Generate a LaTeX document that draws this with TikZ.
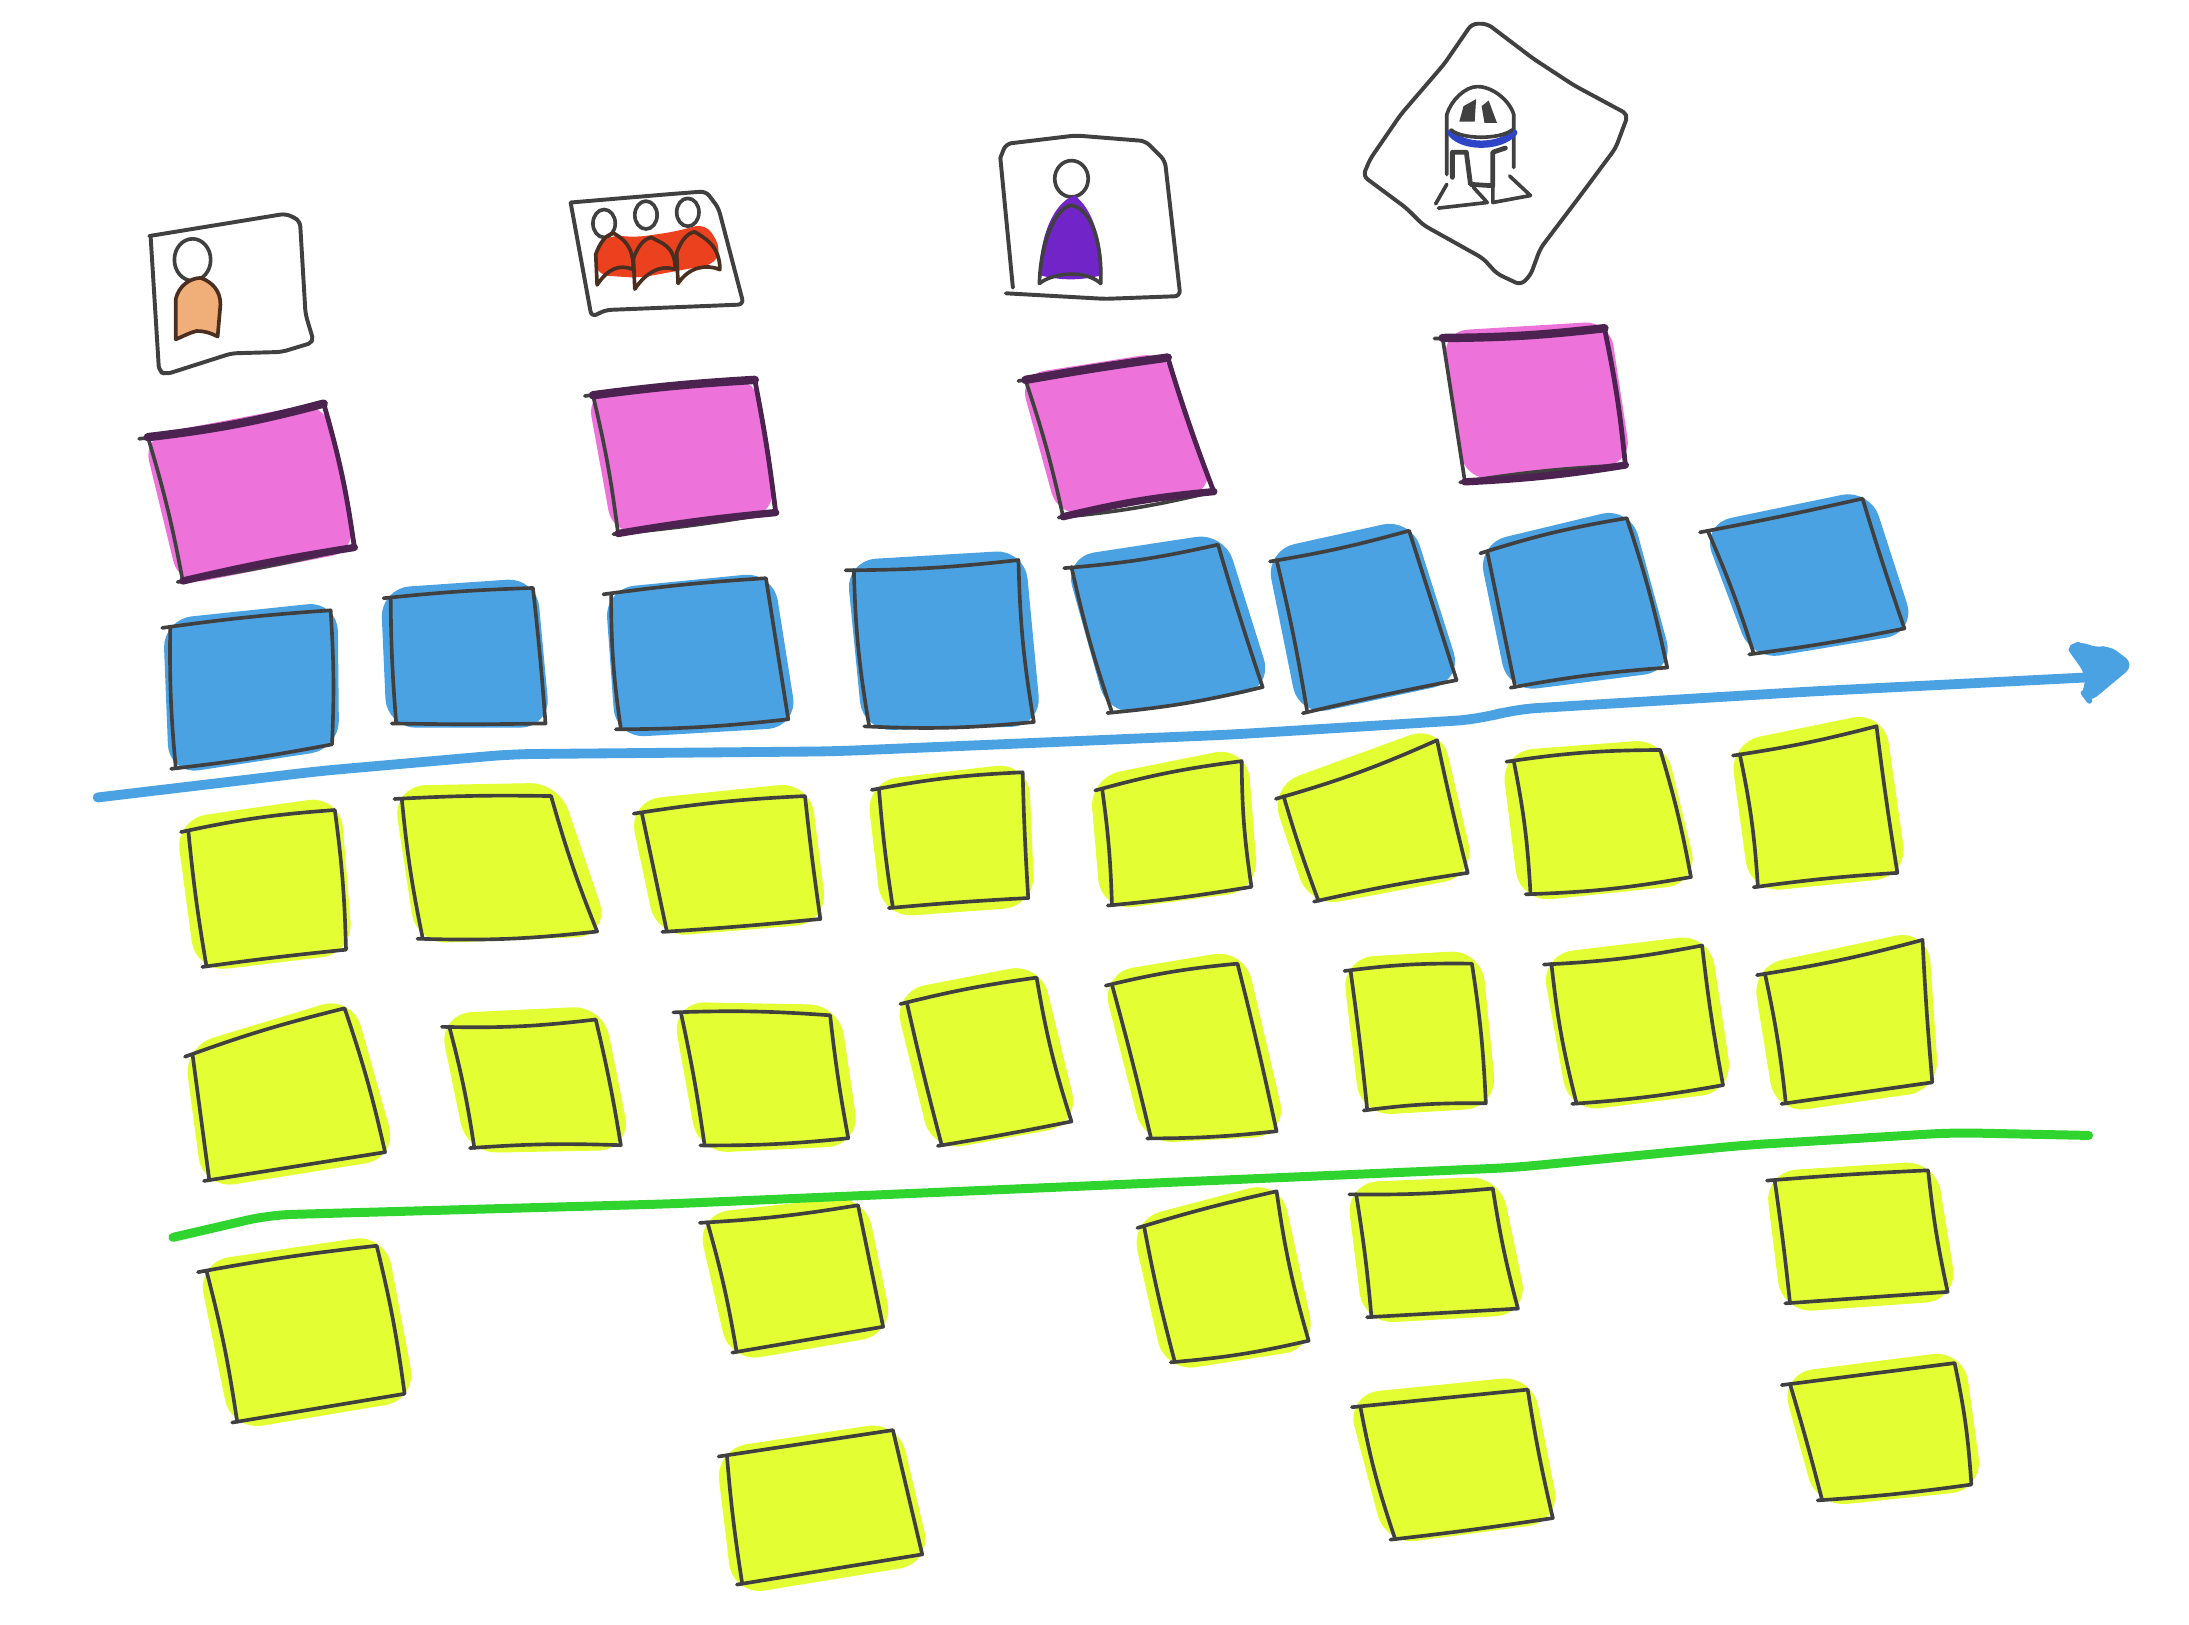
\documentclass[tikz,border=0pt]{standalone}
\usetikzlibrary{calc}

\definecolor{notepink}{HTML}{ED72DA}
\definecolor{noteblue}{HTML}{4BA2E3}
\definecolor{noteyellow}{HTML}{E3FF33}
\definecolor{pencil}{HTML}{404040}
\definecolor{pinkline}{HTML}{4C2350}
\definecolor{lanegreen}{HTML}{2FD42F}
\definecolor{bodyorange}{HTML}{F0AF78}
\definecolor{bodyred}{HTML}{EC411E}
\definecolor{bodypurple}{HTML}{7125C8}
\definecolor{bodyblue}{HTML}{2F45C8}
\definecolor{bodyline}{HTML}{4A2E20}

\tikzset{
	blob/.style={fill=#1,draw=#1,line join=round,rounded corners=8pt},
	sketch/.style={draw=pencil,line width=1.3pt,line cap=round,line join=round},
	card/.style={draw=pencil,line width=1.4pt,line cap=round,line join=round,rounded corners=2pt},
	pen/.style={draw=pencil,line width=1.3pt,line cap=round,line join=round},
	lane/.style={line width=3.5pt,line cap=round,line join=round,rounded corners=8pt}
}

% one sticky note, from the corners in \ax ... \dy: fill colour and width of its halo
\newcommand{\stickynote}[2]{
	\coordinate (nw) at (\ax,\ay);
	\coordinate (ne) at (\bx,\by);
	\coordinate (se) at (\cx,\cy);
	\coordinate (sw) at (\dx,\dy);
	\pgfmathsetmacro\bowa{mod(\ax+2*\by,9)-4}
	\pgfmathsetmacro\bowb{mod(\bx+2*\cy,9)-4}
	\pgfmathsetmacro\bowc{mod(\cx+2*\dy,9)-4}
	\pgfmathsetmacro\bowd{mod(\dx+2*\ay,9)-4}
	\pgfmathsetmacro\nudgex{mod(\ax,5)-2}
	\pgfmathsetmacro\nudgey{mod(\by,5)-3}
	\path[blob=#1,line width=#2] ($(nw)+(\nudgex,\nudgey)$) -- ($(ne)+(\nudgex,\nudgey)$)
		-- ($(se)+(\nudgex,\nudgey)$) -- ($(sw)+(\nudgex,\nudgey)$) -- cycle;
	\draw[sketch] ($(nw)!-0.05!(ne)$) to[bend left=\bowa] (ne) to[bend left=\bowb] (se)
		to[bend left=\bowc] ($(sw)!-0.03!(se)$);
	\draw[sketch] (nw) to[bend right=\bowd] (sw);
}

\begin{document}
\begin{tikzpicture}[x=0.497pt,y=-0.4975pt]
	\useasboundingbox (0,0) rectangle (1569,1163);

	% the pink notes, with their heavy top and bottom strokes
	\foreach \ax/\ay/\bx/\by/\cx/\cy/\dx/\dy in {
		106/313/232/289/254/392/131/416,
		425/283/541/272/556/367/443/382,
		735/272/837/256/870/352/762/370,
		1034/242/1150/235/1165/333/1050/345}
	{
		\stickynote{notepink}{2pt}
		\draw[pinkline,line width=3pt,line cap=round] (nw) to[bend left=\bowa] (ne);
		\draw[pinkline,line width=2.6pt,line cap=round] (se) to[bend right=\bowc] (sw);
		\draw[pinkline,line width=1.7pt,line cap=round] (ne) to[bend left=\bowb] (se);
	}

	% the blue notes above the line
	\foreach \ax/\ay/\bx/\by/\cx/\cy/\dx/\dy in {
		122/449/237/437/238/533/126/550,
		280/428/382/421/391/518/284/518,
		438/425/549/414/565/515/445/522,
		612/408/730/401/741/517/623/520,
		768/406/873/390/905/492/797/510,
		915/401/1010/380/1044/487/937/510,
		1066/395/1166/371/1195/478/1086/492,
		1224/380/1335/357/1365/450/1257/468}
	{
		\stickynote{noteblue}{5pt}
	}

	% the yellow notes, rows one and two
	\foreach \ax/\ay/\bx/\by/\cx/\cy/\dx/\dy in {
		135/595/240/580/248/680/148/692,
		288/572/395/570/428/667/303/672,
		460/582/577/570/588/658/478/667,
		630/565/733/553/737/643/640/650,
		790/565/890/545/897/635/797/648,
		920/570/1030/530/1052/625/945/645,
		1085/545/1190/537/1212/628/1097/640,
		1247/540/1345/520/1360/625/1260/635,
		138/755/247/722/276/825/150/845,
		322/735/427/730/445/820/340/822,
		488/725/595/727/608/815/505/820,
		650/718/743/700/768/803/675/820,
		797/705/887/690/915/810/825/815,
		968/695/1055/690/1065/790/980/795,
		1112/690/1220/677/1235/777/1130/790,
		1265/697/1378/673/1385/775/1280/790}
	{
		\stickynote{noteyellow}{6.5pt}
	}

	% the yellow notes below the green line
	\foreach \ax/\ay/\bx/\by/\cx/\cy/\dx/\dy in {
		148/910/270/892/290/998/170/1018,
		507/875/615/863/633/950/528/968,
		820/878/915/853/938/960/842/975,
		972/855/1070/851/1088/937/983/943,
		1272/845/1382/838/1396/925/1283/933,
		521/1042/640/1024/661/1113/532/1134,
		975/1007/1095/995/1113/1087/1000/1102,
		1283/991/1401/976/1413/1063/1306/1074}
	{
		\stickynote{noteyellow}{6.5pt}
	}

	% the two long lines
	\draw[lane,noteblue] (70,571) -- (230,552) -- (367,540) -- (597,538) -- (882,526) -- (1060,515)
		-- (1085,508) -- (1300,495) -- (1497,485);
	\path[blob=noteblue,line width=2pt,rounded corners=3pt] (1484,464) -- (1491,461) -- (1502,466)
		-- (1511,464) -- (1527,476) -- (1497,501) -- (1494,497) -- (1497,489) -- (1496,481) -- (1488,470) -- cycle;
	\draw[lane,lanegreen,line width=3.2pt] (124,886) -- (193,870) -- (480,862) -- (1085,836) -- (1250,820)
		-- (1400,811) -- (1497,813);

	% first card, one orange person
	\draw[card] (107,169) -- (205,153) -- (215,158) -- (219,225) -- (225,245) -- (202,252)
		-- (166,253) -- (119,268) -- (114,266) -- (108,170);
	\draw[pen] (138,186) ellipse (13 and 15);
	\draw[pen,draw=bodyline,fill=bodyorange] (126,243) -- (126,214) .. controls (128,205) and (136,199) .. (144,199)
		.. controls (152,202) and (158,208) .. (158,218) -- (156,241) .. controls (150,238) and (146,237) .. (141,237)
		.. controls (136,238) and (131,241) .. (126,243) -- cycle;

	% second card, three red people
	\draw[card] (409,145) -- (480,139) -- (506,137) -- (515,149) -- (533,218) -- (434,222) -- (424,227) -- (409,145);
	\fill[bodyred,rounded corners=4pt] (425,180) -- (437,168) -- (455,170) -- (483,166) -- (506,160) -- (517,178)
		-- (513,189) -- (485,194) -- (458,199) -- (428,197) -- cycle;
	\foreach \hx/\hy in {433/160,463/154,493/152}
		\draw[pen] (\hx,\hy) ellipse (8 and 10);
	\foreach \fx/\fy/\ex/\ey in {428/204/454/193,455/207/484/193,486/203/516/193}
		\draw[pen,draw=bodyline] (\fx,\fy) -- (\fx-1,\fy-22) .. controls (\fx+2,\fy-30) and (\fx+6,\fy-36) .. (\fx+12,\fy-37)
			.. controls (\fx+18,\fy-33) and (\ex,\ey-18) .. (\ex,\ey)
			.. controls (\ex-10,\ey-4) and (\fx+8,\fy-12) .. (\fx,\fy);

	% third card, one purple person
	\draw[card] (717,113) -- (721,103) -- (771,97) -- (821,101) -- (835,115) -- (846,212) -- (792,214)
		-- (721,210);
	\draw[card] (726,206) -- (717,113);
	\draw[pen] (768,128) ellipse (12 and 13);
	\fill[bodypurple] (745,197) .. controls (745,170) and (755,145) .. (770,140)
		.. controls (782,148) and (790,170) .. (790,197) .. controls (775,201) and (760,201) .. (745,197) -- cycle;
	\draw[pen] (745,203) .. controls (746,170) and (758,148) .. (768,147)
		.. controls (783,150) and (790,175) .. (789,203);
	\draw[pen] (745,203) .. controls (755,195) and (778,193) .. (789,203);

	% fourth card, the robot
	\draw[card] (1055,17) -- (1066,17) -- (1099,42) -- (1128,61) -- (1167,82) -- (1158,106) -- (1135,137)
		-- (1104,178) -- (1097,197) -- (1090,204) -- (1073,196) -- (1063,185) -- (1020,161) -- (1008,149)
		-- (977,126) -- (982,114) -- (1004,82) -- (1035,46) -- cycle;
	\draw[pen] (1037,125) -- (1037,82) .. controls (1040,72) and (1050,62) .. (1059,62)
		.. controls (1070,62) and (1082,72) .. (1085,82) -- (1085,120);
	\fill[pencil] (1046,87) -- (1049,76) -- (1058,71) -- (1057,87) -- cycle;
	\fill[pencil] (1062,76) -- (1067,72) -- (1073,88) -- (1064,88) -- cycle;
	\draw[bodyblue,line width=2.6pt,line cap=round] (1040,95) .. controls (1048,106) and (1075,106) .. (1085,95);
	\draw[pen] (1040,93) .. controls (1048,100) and (1075,100) .. (1084,93);
	\draw[pen,line width=1.7pt] (1041,127) -- (1041,109) -- (1051,109) -- (1054,132) -- (1070,133) -- (1070,109) -- (1079,106);
	\draw[pen] (1037,132) -- (1029,146);
	\draw[pen] (1031,149) -- (1066,145) -- (1056,134);
	\draw[pen] (1070,134) -- (1070,145) -- (1097,140) -- (1082,126);
\end{tikzpicture}
\end{document}
